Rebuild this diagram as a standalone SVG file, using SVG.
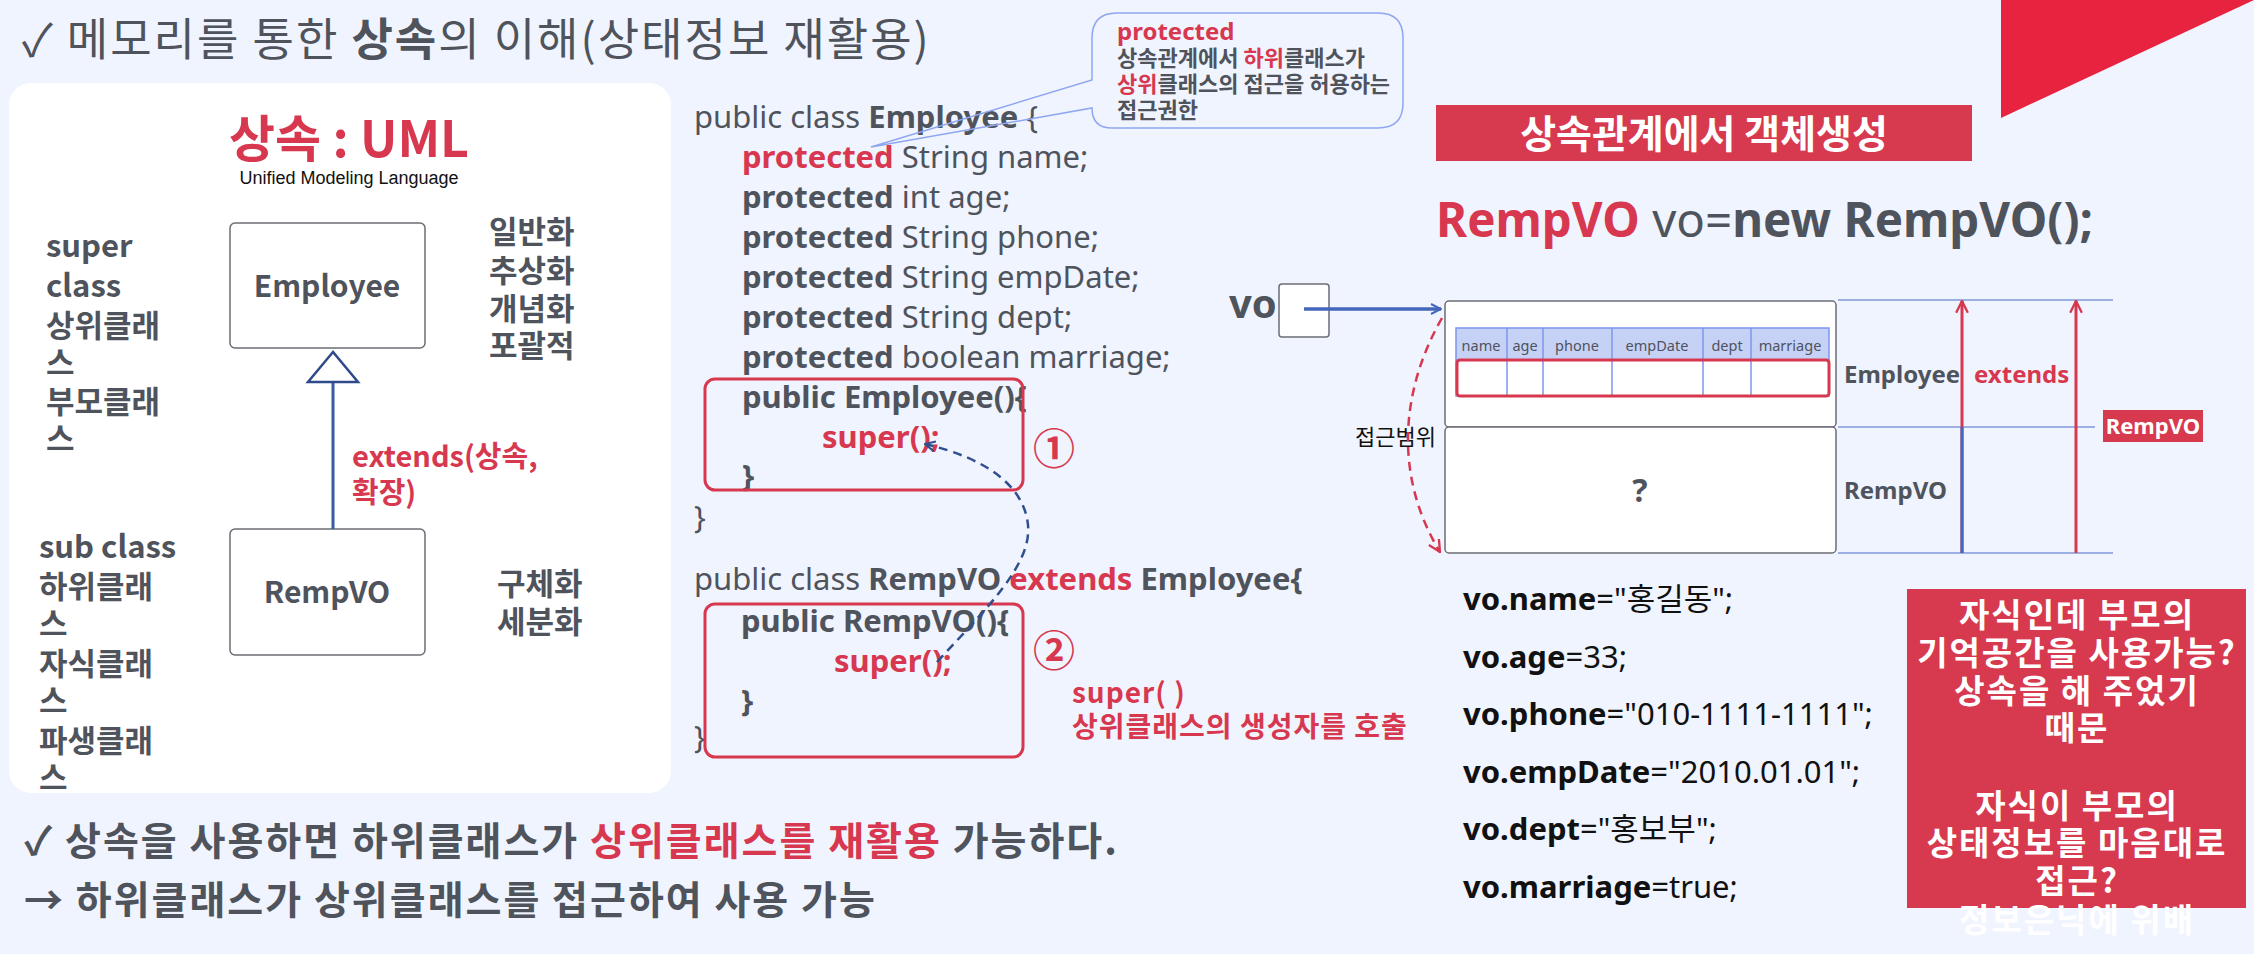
<svg xmlns="http://www.w3.org/2000/svg" width="2254" height="954" viewBox="0 0 2254 954">
<defs>
<style>
.ko{font-family:"Noto Sans CJK KR","Noto Sans",sans-serif}
.la{font-family:"Noto Sans","Noto Sans CJK KR",sans-serif}
.g{fill:#4F535C}
.r{fill:#D7384F}
.w{fill:#fff}
.k{fill:#111}
.b{font-weight:700}
.box{fill:#fff;stroke:#6B6E75;stroke-width:1.5}
.rbox{fill:none;stroke:#D7384F;stroke-width:3}
.guide{stroke:#8099DA;stroke-width:1.5;fill:none}
.col{stroke:#7E95EE;stroke-width:1.5}
</style>
<marker id="mBlue" viewBox="0 0 12 12" refX="11" refY="6" markerWidth="12" markerHeight="12" markerUnits="userSpaceOnUse" orient="auto">
<path d="M1,1 L11,6 L1,11" fill="none" stroke="#4466BB" stroke-width="2"/>
</marker>
<marker id="mRed" viewBox="0 0 12 12" refX="11" refY="6" markerWidth="14" markerHeight="14" markerUnits="userSpaceOnUse" orient="auto">
<path d="M1,1 L11,6 L1,11" fill="none" stroke="#D7384F" stroke-width="2"/>
</marker>
<marker id="mNavy" viewBox="0 0 12 12" refX="11" refY="6" markerWidth="12" markerHeight="12" markerUnits="userSpaceOnUse" orient="auto">
<path d="M1,1 L11,6 L1,11" fill="none" stroke="#2F4F8F" stroke-width="2"/>
</marker>
</defs>

<rect x="0" y="0" width="2254" height="954" fill="#F0F4FE"/>

<!-- title -->
<text x="22" y="56" font-size="45" letter-spacing="2" class="ko g">✓ 메모리를 통한 <tspan class="b">상속</tspan>의 이해(상태정보 재활용)</text>

<!-- top-right triangle -->
<polygon points="2001,0 2254,0 2001,118" fill="#E8233F"/>

<!-- left UML panel -->
<g id="uml-panel">
<rect x="9" y="83" width="662" height="710" rx="22" fill="#fff"/>
<text x="349" y="157" text-anchor="middle" font-size="50" class="ko r b">상속 : UML</text>
<text x="349" y="184" text-anchor="middle" font-size="18" font-family="Liberation Sans, Arial, sans-serif" class="k">Unified Modeling Language</text>
<g class="ko g b" font-size="31">
<text x="46" y="257">super</text>
<text x="46" y="297">class</text>
<text x="46" y="337">상위클래</text>
<text x="46" y="374">스</text>
<text x="46" y="413">부모클래</text>
<text x="46" y="450">스</text>
<text x="489" y="243">일반화</text>
<text x="489" y="282">추상화</text>
<text x="489" y="320">개념화</text>
<text x="489" y="357">포괄적</text>
<text x="497" y="595">구체화</text>
<text x="497" y="633">세분화</text>
<text x="39" y="558">sub class</text>
<text x="39" y="598">하위클래</text>
<text x="39" y="635">스</text>
<text x="39" y="675">자식클래</text>
<text x="39" y="712">스</text>
<text x="39" y="752">파생클래</text>
<text x="39" y="789">스</text>
</g>
</g>

<g id="uml-employee">
<rect class="box" x="230" y="223" width="195" height="125" rx="5"/>
<text x="327" y="297" text-anchor="middle" font-size="30" class="ko g b">Employee</text>
</g>
<g id="uml-rempvo">
<rect class="box" x="230" y="529" width="195" height="126" rx="5"/>
<text x="327" y="603" text-anchor="middle" font-size="30" class="ko g b">RempVO</text>
</g>

<g id="uml-connectors">
<line x1="333" y1="529" x2="333" y2="382" stroke="#3B5BA5" stroke-width="3"/>
<polygon points="333,352 308,382 358,382" fill="#fff" stroke="#2F4A8A" stroke-width="2.5"/>
<text x="352" y="467" font-size="29" class="ko r b">extends(상속,</text>
<text x="352" y="503" font-size="29" class="ko r b">확장)</text>
</g>

<!-- code -->
<g id="code-employee" class="la g" font-size="31">
<text x="694" y="128">public class <tspan class="b">Employee</tspan> {</text>
<text x="742" y="168"><tspan class="b r">protected</tspan> String name;</text>
<text x="742" y="208"><tspan class="b">protected</tspan> int age;</text>
<text x="742" y="248"><tspan class="b">protected</tspan> String phone;</text>
<text x="742" y="288"><tspan class="b">protected</tspan> String empDate;</text>
<text x="742" y="328"><tspan class="b">protected</tspan> String dept;</text>
<text x="742" y="368"><tspan class="b">protected</tspan> boolean marriage;</text>
<text x="742" y="408" class="b">public Employee(){</text>
<text x="822" y="448" class="b r">super();</text>
<text x="742" y="487" class="b">}</text>
<text x="694" y="528">}</text>
<rect class="rbox" x="705" y="379" width="318" height="111" rx="10"/>
<text x="1054" y="464" text-anchor="middle" font-size="42" class="ko r b">①</text>
</g>

<g id="code-rempvo" class="la g" font-size="31">
<text x="694" y="590">public class <tspan class="b">RempVO</tspan> <tspan class="b r">extends</tspan> <tspan class="b">Employee{</tspan></text>
<text x="741" y="632" class="b">public RempVO(){</text>
<text x="834" y="672" class="b r">super();</text>
<text x="741" y="712" class="b">}</text>
<text x="694" y="748">}</text>
<rect class="rbox" x="705" y="604" width="318" height="153" rx="10"/>
<text x="1054" y="666" text-anchor="middle" font-size="42" class="ko r b">②</text>
<text x="1072" y="703" font-size="28" letter-spacing="1" class="ko r b">super( )</text>
<text x="1072" y="737" font-size="28" letter-spacing="1" class="ko r b">상위클래스의 생성자를 호출</text>
</g>

<!-- callout -->
<g id="callout">
<path d="M1117,13 H1378 Q1403,13 1403,38 V103 Q1403,128 1378,128 H1112 Q1092,128 1092,108 L871,147 L1092,80 V38 Q1092,13 1117,13 Z" fill="none" stroke="#8EA6F0" stroke-width="1.5"/>
<text x="1117" y="40" font-size="24" class="la r b">protected</text>
<text x="1117" y="66" font-size="22" class="ko g b">상속관계에서 <tspan class="r">하위</tspan>클래스가</text>
<text x="1117" y="92" font-size="22" class="ko g b"><tspan class="r">상위</tspan>클래스의 접근을 허용하는</text>
<text x="1117" y="118" font-size="22" class="ko g b">접근권한</text>
</g>

<!-- banner -->
<g id="banner">
<rect x="1436" y="105" width="536" height="56" fill="#D7394F"/>
<text x="1704" y="148" text-anchor="middle" font-size="39" class="ko w b">상속관계에서 객체생성</text>
</g>
<text x="1436" y="237" font-size="47.5" class="la g"><tspan class="b r">RempVO</tspan> vo=<tspan class="b">new RempVO();</tspan></text>

<!-- memory -->
<g id="vo-ref">
<text x="1229" y="318" font-size="40" class="la g b">vo</text>
<rect class="box" x="1279" y="284" width="50" height="53" rx="3"/>
</g>

<g id="object-employee">
<rect class="box" x="1445" y="301" width="391" height="126" rx="4"/>
<rect x="1456" y="328" width="373" height="32" fill="#C6D1F6" stroke="#7E95EE" stroke-width="1.5"/>
<rect x="1456" y="360" width="373" height="36" fill="#fff" stroke="#7E95EE" stroke-width="1.5"/>
<g class="col">
<line x1="1507" y1="328" x2="1507" y2="396"/>
<line x1="1543" y1="328" x2="1543" y2="396"/>
<line x1="1612" y1="328" x2="1612" y2="396"/>
<line x1="1703" y1="328" x2="1703" y2="396"/>
<line x1="1751" y1="328" x2="1751" y2="396"/>
</g>
<g class="la g" font-size="14.5" text-anchor="middle">
<text x="1481" y="351">name</text>
<text x="1525" y="351">age</text>
<text x="1577" y="351">phone</text>
<text x="1657" y="351">empDate</text>
<text x="1727" y="351">dept</text>
<text x="1790" y="351">marriage</text>
</g>
<rect class="rbox" x="1457" y="360" width="372" height="36" rx="3"/>
</g>
<g id="object-rempvo">
<rect class="box" x="1445" y="427" width="391" height="126" rx="4"/>
<text x="1640" y="502" text-anchor="middle" font-size="32" class="la g b">?</text>
</g>

<text x="1355" y="445" font-size="22" class="ko k">접근범위</text>

<g id="labels">
<text x="1844" y="383" font-size="24" class="la g b">Employee</text>
<text x="1844" y="499" font-size="24" class="la g b">RempVO</text>
<text x="1974" y="383" font-size="24" class="la r b">extends</text>
<rect x="2103" y="410" width="100" height="32" fill="#D7394F"/>
<text x="2153" y="434" text-anchor="middle" font-size="22" class="la w b">RempVO</text>
</g>

<g id="connectors">
<path d="M937,662 C985,610 1032,565 1028,525 C1024,485 985,458 925,444" fill="none" stroke="#2F4F8F" stroke-width="2.5" stroke-dasharray="9,6" marker-end="url(#mNavy)"/>
<line x1="1304" y1="309" x2="1441" y2="309" stroke="#4466BB" stroke-width="3.5" marker-end="url(#mBlue)"/>
<path d="M1442,318 C1398,395 1396,480 1440,552" fill="none" stroke="#D7384F" stroke-width="2.5" stroke-dasharray="9,6" marker-end="url(#mRed)"/>
<line class="guide" x1="1838" y1="300" x2="2113" y2="300"/>
<line class="guide" x1="1838" y1="427" x2="2095" y2="427"/>
<line class="guide" x1="1838" y1="553" x2="2113" y2="553"/>
<line x1="1962" y1="553" x2="1962" y2="301" stroke="#D7384F" stroke-width="3" marker-end="url(#mRed)"/>
<line x1="1962" y1="427" x2="1962" y2="553" stroke="#4466BB" stroke-width="3"/>
<line x1="2076" y1="553" x2="2076" y2="301" stroke="#D7384F" stroke-width="3" marker-end="url(#mRed)"/>
</g>

<!-- vo assignments -->
<g id="assignments" class="la k" font-size="31">
<text x="1463" y="610"><tspan class="b">vo.name</tspan>="홍길동";</text>
<text x="1463" y="668"><tspan class="b">vo.age</tspan>=33;</text>
<text x="1463" y="725"><tspan class="b">vo.phone</tspan>="010-1111-1111";</text>
<text x="1463" y="783"><tspan class="b">vo.empDate</tspan>="2010.01.01";</text>
<text x="1463" y="840"><tspan class="b">vo.dept</tspan>="홍보부";</text>
<text x="1463" y="898"><tspan class="b">vo.marriage</tspan>=true;</text>
</g>

<!-- note -->
<g id="note">
<rect x="1907" y="589" width="339" height="319" fill="#D7394F"/>
<g class="ko w b" font-size="33" letter-spacing="2" text-anchor="middle">
<text x="2077" y="627">자식인데 부모의</text>
<text x="2077" y="665">기억공간을 사용가능?</text>
<text x="2077" y="703">상속을 해 주었기</text>
<text x="2077" y="740">때문</text>
<text x="2077" y="818">자식이 부모의</text>
<text x="2077" y="855">상태정보를 마음대로</text>
<text x="2077" y="893">접근?</text>
<text x="2077" y="932">정보은닉에 위배</text>
</g>
</g>

<!-- bottom -->
<text x="24" y="855" font-size="39" letter-spacing="2" class="ko g b">✓ 상속을 사용하면 하위클래스가 <tspan class="r">상위클래스를 재활용</tspan> 가능하다.</text>
<text x="24" y="914" font-size="39" letter-spacing="2" class="ko g b">→ 하위클래스가 상위클래스를 접근하여 사용 가능</text>
</svg>
